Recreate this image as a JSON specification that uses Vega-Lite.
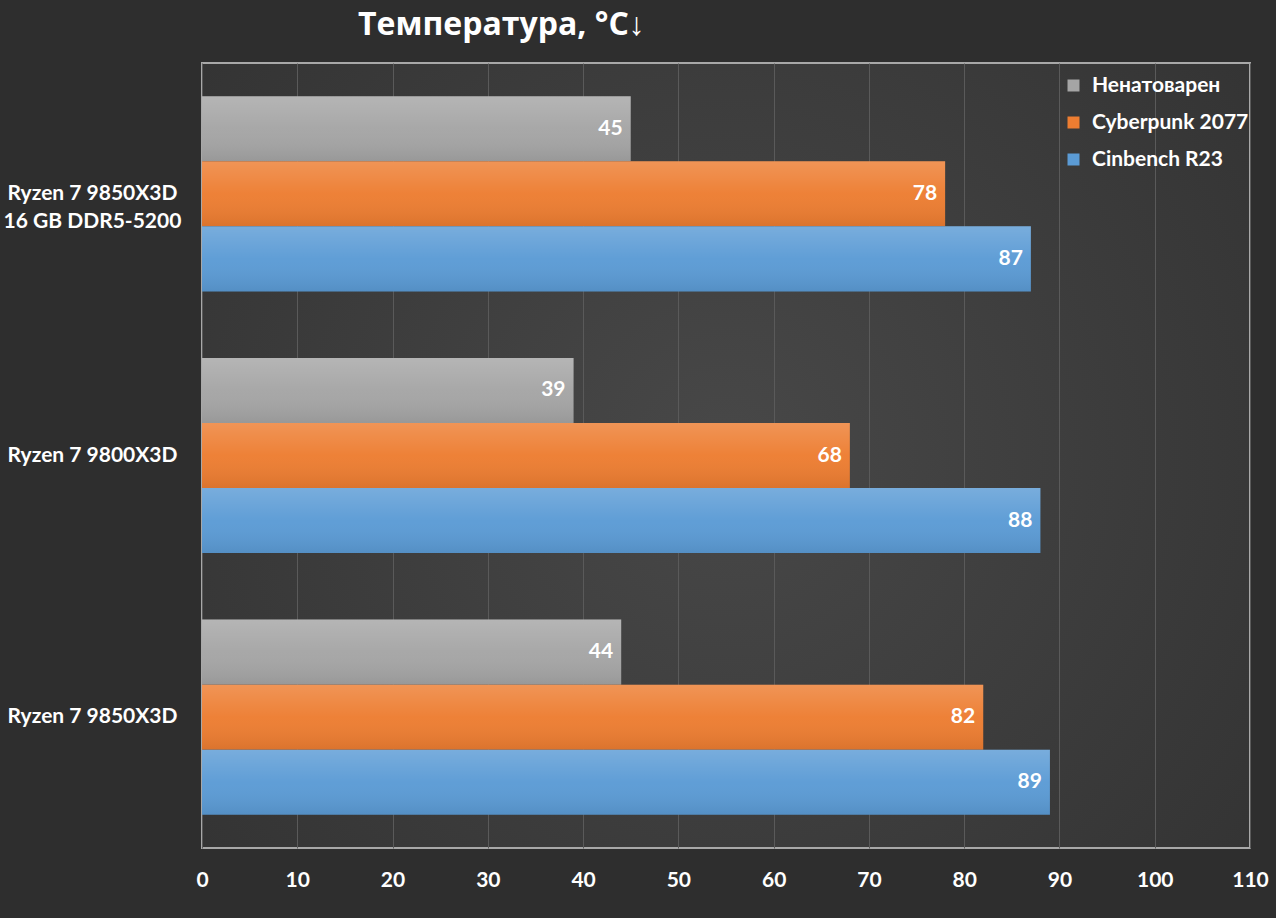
{
  "$schema": "https://vega.github.io/schema/vega-lite/v6.json",
  "width": 1048,
  "height": 785,
  "autosize": "none",
  "padding": {"left": 202, "top": 63, "right": 26, "bottom": 70},
  "background": "#2e2e2e",
  "title": {
    "text": "Температура, °C↓",
    "anchor": "start",
    "frame": "group",
    "dx": 156,
    "dy": 27,
    "offset": 23,
    "baseline": "alphabetic",
    "font": "Open Sans",
    "fontSize": 32,
    "fontWeight": "bold",
    "color": "white"
  },
  "data": {
    "values": [
      {"cpu": "Ryzen 7 9850X3D|16 GB DDR5-5200", "test": "Ненатоварен", "temp": 45},
      {"cpu": "Ryzen 7 9850X3D|16 GB DDR5-5200", "test": "Cyberpunk 2077", "temp": 78},
      {"cpu": "Ryzen 7 9850X3D|16 GB DDR5-5200", "test": "Cinbench R23", "temp": 87},
      {"cpu": "Ryzen 7 9800X3D", "test": "Ненатоварен", "temp": 39},
      {"cpu": "Ryzen 7 9800X3D", "test": "Cyberpunk 2077", "temp": 68},
      {"cpu": "Ryzen 7 9800X3D", "test": "Cinbench R23", "temp": 88},
      {"cpu": "Ryzen 7 9850X3D", "test": "Ненатоварен", "temp": 44},
      {"cpu": "Ryzen 7 9850X3D", "test": "Cyberpunk 2077", "temp": 82},
      {"cpu": "Ryzen 7 9850X3D", "test": "Cinbench R23", "temp": 89}
    ]
  },
  "config": {
    "font": "Lato",
    "view": {
      "stroke": "#a8a8a8",
      "strokeWidth": 2,
      "fill": {
        "gradient": "radial",
        "x1": 0.5, "y1": 0.5, "r1": 0,
        "x2": 0.5, "y2": 0.5, "r2": 0.75,
        "stops": [
          {"offset": 0, "color": "#484848"},
          {"offset": 1, "color": "#303030"}
        ]
      }
    },
    "legend": {
      "orient": "none",
      "legendX": 861,
      "legendY": 12,
      "title": null,
      "symbolType": "square",
      "symbolSize": 144,
      "symbolStrokeWidth": 0,
      "labelFontSize": 21,
      "labelFontWeight": "bold",
      "labelColor": "white",
      "labelOffset": 8,
      "rowPadding": 15
    }
  },
  "encoding": {
    "y": {
      "field": "cpu",
      "type": "nominal",
      "sort": ["Ryzen 7 9850X3D|16 GB DDR5-5200", "Ryzen 7 9800X3D", "Ryzen 7 9850X3D"],
      "scale": {"paddingInner": 0.254, "paddingOuter": 0.127},
      "axis": {
        "title": null,
        "domain": false,
        "ticks": false,
        "labelExpr": "split(datum.value, '|')",
        "labelAlign": "center",
        "labelBaseline": "middle",
        "labelPadding": 110,
        "labelFontSize": 21,
        "labelFontWeight": "bold",
        "labelColor": "white",
        "labelLineHeight": 28,
        "labelLimit": 0
      }
    },
    "yOffset": {
      "field": "test",
      "type": "nominal",
      "sort": ["Ненатоварен", "Cyberpunk 2077", "Cinbench R23"],
      "scale": {"paddingInner": 0, "paddingOuter": 0}
    },
    "x": {
      "field": "temp",
      "type": "quantitative",
      "scale": {"domain": [0, 110], "nice": false},
      "axis": {
        "title": null,
        "values": [0, 10, 20, 30, 40, 50, 60, 70, 80, 90, 100, 110],
        "domain": false,
        "ticks": false,
        "grid": true,
        "gridColor": "#5a5a5a",
        "gridWidth": 1,
        "labelPadding": 21,
        "labelFontSize": 21,
        "labelFontWeight": "bold",
        "labelColor": "white",
        "labelFlush": false,
        "labelOverlap": false
      }
    }
  },
  "layer": [
    {
      "mark": {"type": "bar"},
      "encoding": {
        "color": {
          "field": "test",
          "type": "nominal",
          "sort": ["Ненатоварен", "Cyberpunk 2077", "Cinbench R23"],
          "scale": {
            "domain": ["Ненатоварен", "Cyberpunk 2077", "Cinbench R23"],
            "range": ["#a5a5a5", "#ed7d31", "#5b9bd5"]
          }
        }
      }
    },
    {
      "mark": {
        "type": "bar",
        "fill": {
          "gradient": "linear",
          "x1": 0, "y1": 0, "x2": 0, "y2": 1,
          "stops": [
            {"offset": 0, "color": "rgba(255,255,255,0.18)"},
            {"offset": 0.5, "color": "rgba(255,255,255,0.03)"},
            {"offset": 1, "color": "rgba(0,0,0,0.08)"}
          ]
        }
      }
    },
    {
      "mark": {
        "type": "text",
        "align": "right",
        "baseline": "middle",
        "dx": -8,
        "fontSize": 21,
        "fontWeight": "bold",
        "color": "white"
      },
      "encoding": {
        "text": {"field": "temp", "type": "quantitative"}
      }
    }
  ]
}
